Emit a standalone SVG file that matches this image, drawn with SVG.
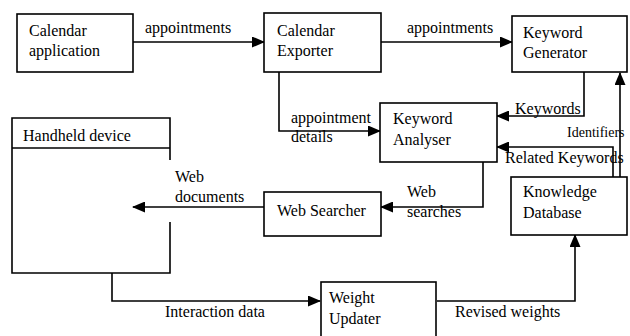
<svg xmlns="http://www.w3.org/2000/svg" width="630" height="336" viewBox="0 0 630 336">
<style>
.box{fill:#fff;stroke:#000;stroke-width:1.6}
.ln{fill:none;stroke:#000;stroke-width:1.6}
text{font-family:"Liberation Serif","Times New Roman",serif;font-size:16px;fill:#000}
</style>
<defs>
<marker id="ah" markerUnits="userSpaceOnUse" markerWidth="13" markerHeight="11" refX="12" refY="5.5" orient="auto">
<path d="M0,0 L13,5.5 L0,11 z" fill="#000"/>
</marker>
</defs>
<rect width="630" height="336" fill="#fff"/>
<g id="connectors">
<path class="ln" d="M133,42 H264" marker-end="url(#ah)"/>
<path class="ln" d="M381,42 H512" marker-end="url(#ah)"/>
<path class="ln" d="M279,72 V131 H380" marker-end="url(#ah)"/>
<path class="ln" d="M584,72 V116 H497" marker-end="url(#ah)"/>
<path class="ln" d="M620,177 V73" marker-end="url(#ah)"/>
<path class="ln" d="M613,177 V147 H497" marker-end="url(#ah)"/>
<path class="ln" d="M483,162 V207 H381" marker-end="url(#ah)"/>
<path class="ln" d="M264,207 H133" marker-end="url(#ah)"/>
<path class="ln" d="M112,273 V301 H320" marker-end="url(#ah)"/>
<path class="ln" d="M437,301 H575 V235" marker-end="url(#ah)"/>
<text x="145" y="33">appointments</text>
<text x="407" y="33">appointments</text>
<text x="291" y="123">appointment</text>
<text x="291" y="142">details</text>
<text x="515" y="114">Keywords</text>
<text x="567" y="137" style="font-size:14px">Identifiers</text>
<text x="505" y="163">Related Keywords</text>
<text x="175" y="182">Web</text>
<text x="175" y="202">documents</text>
<text x="407" y="197">Web</text>
<text x="407" y="217">searches</text>
<text x="165" y="317">Interaction data</text>
<text x="455" y="317">Revised weights</text>
</g>
<g id="calendar-application">
<rect class="box" x="17" y="14" width="116" height="58"/>
<text x="29" y="36">Calendar</text>
<text x="29" y="56">application</text>
</g>
<g id="calendar-exporter">
<rect class="box" x="264" y="13" width="117" height="59"/>
<text x="277" y="36">Calendar</text>
<text x="277" y="56">Exporter</text>
</g>
<g id="keyword-generator">
<rect class="box" x="512" y="16" width="115" height="56"/>
<text x="523" y="38">Keyword</text>
<text x="523" y="58">Generator</text>
</g>
<g id="keyword-analyser">
<rect class="box" x="380" y="103" width="117" height="59"/>
<text x="393" y="124">Keyword</text>
<text x="393" y="145">Analyser</text>
</g>
<g id="handheld-device">
<path class="ln" d="M170,160 V118 H12 V273 H170 V222"/>
<path class="ln" d="M12,148 H170"/>
<text x="23" y="141">Handheld device</text>
</g>
<g id="web-searcher">
<rect class="box" x="264" y="192" width="117" height="44"/>
<text x="277" y="216">Web Searcher</text>
</g>
<g id="knowledge-database">
<rect class="box" x="511" y="177" width="116" height="58"/>
<text x="523" y="197">Knowledge</text>
<text x="523" y="218">Database</text>
</g>
<g id="weight-updater">
<rect class="box" x="321" y="282" width="115" height="60"/>
<text x="329" y="303">Weight</text>
<text x="329" y="324">Updater</text>
</g>
</svg>
